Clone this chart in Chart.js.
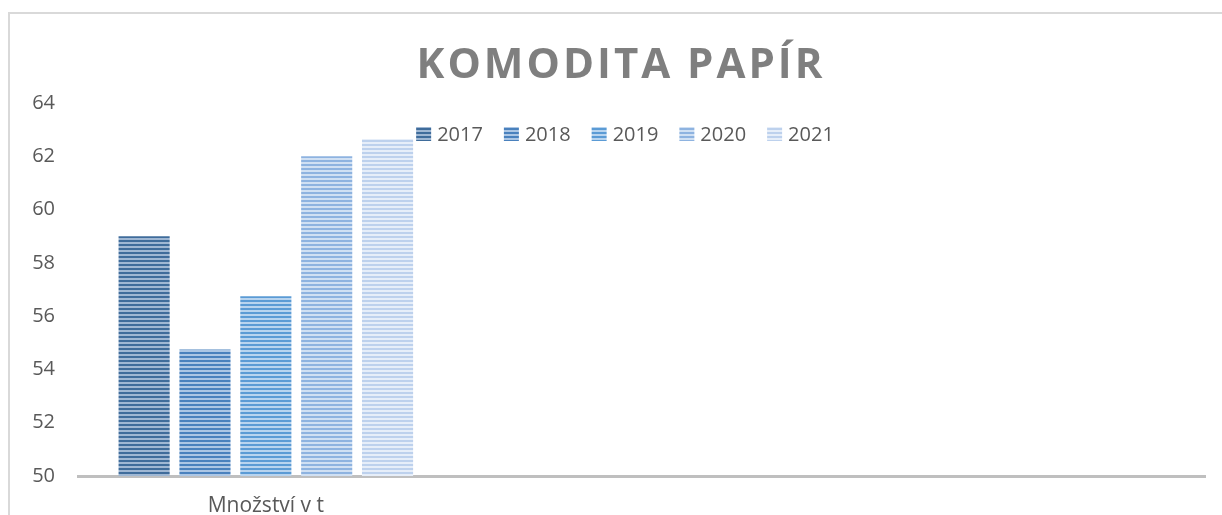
<!DOCTYPE html>
<html>
<head>
<meta charset="utf-8">
<script src="https://cdn.jsdelivr.net/npm/chart.js@4"></script>
<style>
    html, body { margin: 0; padding: 0; background: #fff; overflow: hidden; }
    #frame { position: absolute; left: 8px; top: 12px; width: 1400px; height: 700px; border: 2px solid #d9d9d9; }
    #wrap { position: absolute; left: 0; top: 0; width: 1222px; height: 515px; }
</style>
</head>
<body>
<div id="frame"></div>
<div id="wrap"><canvas id="paperChart" width="1222" height="515"></canvas></div>
<script>
'use strict'

const chartTitle = 'KOMODITA PAPÍR';
const categories = ['Množství v t', '', ''];
const years = ['2017', '2018', '2019', '2020', '2021'];
const yearValues = [59.0, 54.75, 56.75, 62.0, 62.65];
const yTicks = [50, 52, 54, 56, 58, 60, 62, 64];

// stripe colours per year: [dark, light]
const stripeColors = [
    ['#3f6c9b', '#9fb7d3'],
    ['#4a81bd', '#acc6e4'],
    ['#5b9bd5', '#b8d4ef'],
    ['#8eb3e0', '#d0e0f3'],
    ['#bdd1ed', '#e6eef9']
];

const FONT = '"Open Sans", "Liberation Sans", sans-serif';
const textColor = '#595959';

const makeStripes = (dark, light) => {
    const c = document.createElement('canvas');
    c.width = 4;
    c.height = 4;
    const g = c.getContext('2d');
    g.fillStyle = light;
    g.fillRect(0, 0, 4, 4);
    g.fillStyle = dark;
    g.fillRect(0, 0, 4, 2);
    return g.createPattern(c, 'repeat');
};

const titlePlugin = {
    id: 'bigTitle',
    afterDraw(chart) {
        const ctx = chart.ctx;
        ctx.save();
        ctx.font = 'bold 42px ' + FONT;
        ctx.letterSpacing = '3px';
        ctx.fillStyle = '#7f7f7f';
        ctx.textAlign = 'center';
        ctx.textBaseline = 'alphabetic';
        ctx.fillText(chartTitle, 621, 78);
        ctx.restore();
    }
};

// legend drawn inside the plot area, like the original
const insideLegend = {
    id: 'insideLegend',
    afterDraw(chart, args, options) {
        const ctx = chart.ctx;
        const items = chart.options.plugins.legend.labels.generateLabels(chart);
        ctx.save();
        ctx.font = '20px ' + FONT;
        ctx.textBaseline = 'middle';
        const boxW = 15, boxH = 14, gap = 6, spacing = 21;
        let total = 0;
        items.forEach(item => {
            total += boxW + gap + ctx.measureText(item.text).width + spacing;
        });
        total -= spacing;
        let x = options.centerX - total / 2;
        const y = options.y;
        items.forEach(item => {
            ctx.fillStyle = item.fillStyle;
            ctx.fillRect(x, y - boxH / 2, boxW, boxH);
            x += boxW + gap;
            ctx.fillStyle = textColor;
            ctx.fillText(item.text, x, y + 1);
            x += ctx.measureText(item.text).width + spacing;
        });
        ctx.restore();
    }
};

let paperChart = document.querySelector('#paperChart');
new Chart(paperChart, {
    type: 'bar',
    data: {
        labels: categories,
        datasets: years.map((year, i) => ({
            label: year,
            data: categories.map((c, j) => j === 0 ? yearValues[i] : null),
            backgroundColor: makeStripes(stripeColors[i][0], stripeColors[i][1]),
            borderWidth: 0,
            categoryPercentage: 0.81,
            barPercentage: 0.84
        }))
    },
    options: {
        responsive: false,
        animation: false,
        layout: {
            padding: { top: 103, left: 31, right: 17, bottom: 0 }
        },
        scales: {
            x: {
                grid: { display: false, drawTicks: false },
                border: { display: true, color: '#bfbfbf', width: 3 },
                ticks: {
                    color: textColor,
                    font: { family: FONT, size: 21 },
                    padding: 17
                },
                afterFit(scale) { scale.height = 39; }
            },
            y: {
                min: 50,
                max: 64,
                afterBuildTicks(scale) {
                    scale.ticks = yTicks.map(v => ({ value: v }));
                },
                grid: { display: false, drawTicks: false },
                border: { display: false },
                ticks: {
                    color: textColor,
                    font: { family: FONT, size: 20 },
                    padding: 23
                },
                afterFit(scale) { scale.width = 47; }
            }
        },
        plugins: {
            legend: { display: false },
            tooltip: { enabled: false },
            insideLegend: { centerX: 625, y: 134 }
        }
    },
    plugins: [titlePlugin, insideLegend]
});
</script>
</body>
</html>
